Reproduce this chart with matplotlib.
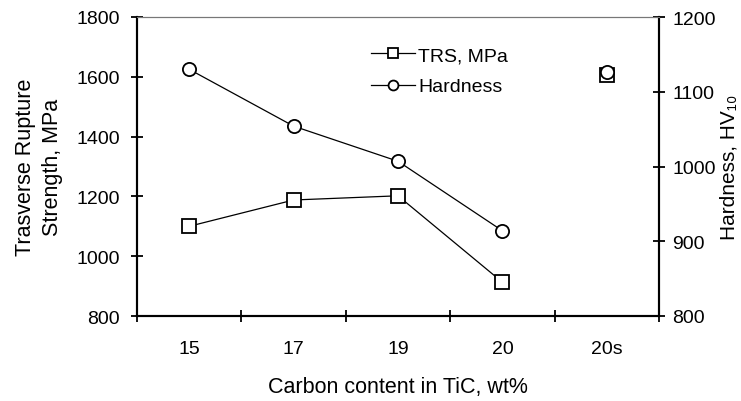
import matplotlib.pyplot as plt
import numpy as np

plt.rcParams['font.family'] = ['Liberation Sans', 'DejaVu Sans']

# data
categories = ['15', '17', '19', '20', '20s']
trs = [1100, 1188, 1202, 913]
trs_s = 1605
hardness = [1130, 1054, 1007, 914]
hardness_s = 1126

fs = 14

fig = plt.figure(figsize=(7.41, 4.02), dpi=100)
ax = fig.add_axes([137/741, 1 - 317/402, (659-137)/741, (317-18)/402])
ax2 = ax.twinx()

x = np.arange(len(categories))
ax.plot(x[:4], trs, color='black', lw=0.9, marker='s', ms=10, mfc='white', mec='black', mew=1.3, label='TRS, MPa')
ax.plot([x[4]], [trs_s], color='black', lw=0, marker='s', ms=10, mfc='white', mec='black', mew=1.3)
ax2.plot(x[:4], hardness, color='black', lw=0.9, marker='o', ms=9.5, mfc='white', mec='black', mew=1.3, label='Hardness')
ax2.plot([x[4]], [hardness_s], color='black', lw=0, marker='o', ms=9.5, mfc='white', mec='black', mew=1.3)

ax.set_xlim(-0.5, 4.5)
ax.set_ylim(800, 1800)
ax2.set_ylim(800, 1200)
ax.set_yticks(range(800, 1801, 200))
ax2.set_yticks(range(800, 1201, 100))

# category labels between tick marks
ax.set_xticks(np.arange(-0.5, 4.6, 1))
ax.set_xticklabels([])
ax.set_xticks(x, minor=True)
ax.set_xticklabels(categories, minor=True, fontsize=fs)
ax.tick_params(axis='x', which='minor', length=0, pad=17)
ax.tick_params(axis='x', which='major', direction='inout', length=9, width=1.3)
ax.tick_params(axis='y', direction='inout', length=9, width=1.3, labelsize=fs, pad=8)
ax2.tick_params(axis='y', direction='inout', length=9, width=1.3, labelsize=fs, pad=5)

for a in (ax, ax2):
    a.spines['top'].set_color('#777777')
    a.spines['top'].set_linewidth(0.8)
    a.spines['left'].set_linewidth(1.5)
    a.spines['bottom'].set_linewidth(1.5)
    a.spines['right'].set_linewidth(1.5)

ax.set_xlabel('Carbon content in TiC, wt%', fontsize=15.5, labelpad=14)
ax.set_ylabel('Trasverse Rupture\nStrength, MPa', fontsize=15.5, linespacing=1.35, va='center')
ax.yaxis.set_label_coords(-0.188, 0.5)
ax2.set_ylabel('Hardness, HV₁₀', fontsize=15, va='center')
ax2.yaxis.set_label_coords(1.134, 0.5)

h1, l1 = ax.get_legend_handles_labels()
h2, l2 = ax2.get_legend_handles_labels()
leg = ax.legend(h1 + h2, l1 + l2, loc='upper left', bbox_to_anchor=(0.425, 0.94), frameon=False,
                fontsize=fs, handlelength=2.3, handletextpad=0.15, labelspacing=0.7, markerscale=0.75,
                borderaxespad=0.2)

fig.savefig('out.png', dpi=100)
